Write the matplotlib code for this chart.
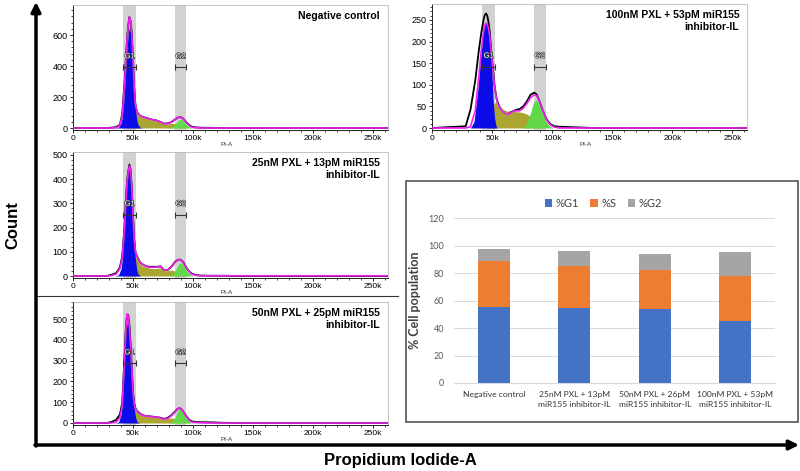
import numpy as np
import matplotlib
matplotlib.use("Agg")
import matplotlib.pyplot as plt
import matplotlib.transforms as mtransforms
from matplotlib import patheffects
from matplotlib.patches import Rectangle
from matplotlib.ticker import MultipleLocator, FuncFormatter

plt.rcParams['font.family'] = ['Liberation Sans', 'DejaVu Sans']

# ---- flow cytometry histograms (PI-A in thousands, counts) ----
PI_K = [0, 28, 32, 36, 39, 41, 43, 44, 45, 46, 47, 48, 49, 50, 51, 52, 53, 54, 56, 58,
        61, 64, 67, 70, 73, 76, 79, 82, 85, 87, 89, 91, 93, 95, 97, 99, 102, 106, 115,
        125, 135, 262]
G1_K = [32, 35, 38, 40, 41, 42, 43, 44, 45, 46, 47, 48, 49, 50, 51, 52, 53, 54, 56, 58]
S_K = [44, 46, 48, 50, 52, 53, 54, 56, 58, 61, 64, 67, 70, 73, 76, 79, 82, 85, 88, 91, 94, 97]
G2_K = [76, 79, 82, 84, 86, 87, 88, 89, 90, 91, 92, 94, 96, 98, 101]

neg_total = [0, 0, 2, 6, 20, 90, 300, 440, 570, 660, 715, 690, 610, 440, 260, 150, 115, 95, 78, 72,
             65, 58, 52, 48, 38, 28, 30, 38, 55, 66, 70, 66, 50, 32, 18, 9, 4, 2, 1, 0, 0, 0]
neg_fit = [0, 0, 0, 2, 15, 80, 290, 435, 565, 660, 720, 690, 610, 440, 260, 150, 115, 95, 78, 72,
           65, 58, 52, 47, 38, 27, 29, 37, 55, 67, 70, 66, 50, 30, 15, 6, 2, 0, 0, 0, 0, 0]
neg_g1 = [0, 0, 5, 30, 70, 140, 250, 380, 510, 610, 650, 610, 510, 370, 240, 130, 60, 25, 3, 0]
neg_s = [0, 15, 55, 95, 115, 110, 95, 78, 70, 62, 56, 50, 45, 36, 27, 27, 30, 28, 18, 8, 3, 0]
neg_g2 = [0, 0, 5, 15, 32, 42, 50, 55, 55, 50, 42, 25, 12, 4, 0]

p25_total = [0, 0, 5, 12, 35, 80, 210, 310, 390, 430, 460, 440, 360, 250, 150, 100, 85, 75, 55, 48,
             40, 38, 38, 38, 40, 24, 25, 38, 58, 66, 68, 62, 48, 30, 18, 10, 4, 2, 1, 1, 0, 0]
p25_fit = [0, 0, 2, 8, 30, 75, 200, 300, 385, 428, 455, 440, 360, 250, 150, 100, 85, 72, 55, 48,
           40, 36, 36, 37, 39, 24, 25, 37, 56, 66, 68, 62, 48, 30, 16, 8, 3, 1, 1, 1, 1, 1]
p25_g1 = [0, 0, 5, 30, 65, 130, 210, 300, 380, 430, 440, 410, 340, 240, 140, 70, 30, 10, 0, 0]
p25_s = [0, 10, 40, 70, 80, 75, 65, 48, 42, 36, 32, 30, 32, 33, 22, 22, 25, 20, 12, 5, 2, 0]
p25_g2 = [0, 0, 3, 12, 30, 40, 48, 53, 54, 50, 44, 28, 14, 5, 0]

p50_total = [0, 0, 5, 15, 40, 95, 330, 450, 520, 520, 470, 380, 265, 150, 95, 72, 62, 55, 45, 38,
             33, 32, 30, 28, 25, 20, 25, 38, 55, 68, 72, 62, 45, 28, 15, 8, 5, 4, 3, 1, 0, 0]
p50_fit = [0, 0, 0, 5, 25, 80, 320, 445, 525, 515, 460, 370, 260, 145, 90, 70, 60, 52, 44, 37,
           33, 31, 30, 28, 24, 18, 22, 35, 52, 68, 74, 62, 44, 26, 12, 5, 2, 1, 0, 0, 0, 0]
p50_g1 = [0, 0, 5, 40, 90, 190, 310, 420, 480, 480, 430, 340, 240, 140, 70, 30, 10, 3, 0, 0]
p50_s = [0, 20, 60, 85, 75, 65, 55, 42, 36, 32, 30, 28, 26, 24, 18, 22, 25, 22, 12, 5, 1, 0]
p50_g2 = [0, 0, 3, 15, 40, 55, 65, 68, 64, 55, 45, 25, 12, 4, 0]

p100_total = [0, 4, 42, 110, 180, 220, 252, 262, 265, 260, 245, 225, 190, 160, 130, 100, 80, 65, 50, 42,
              36, 35, 38, 42, 44, 50, 62, 77, 82, 78, 65, 50, 35, 22, 14, 8, 4, 3, 2, 1, 0, 0]
p100_fit = [0, 0, 3, 40, 120, 180, 225, 238, 243, 240, 232, 215, 185, 155, 125, 98, 78, 63, 48, 40,
            33, 32, 38, 40, 40, 46, 57, 70, 77, 75, 64, 50, 35, 21, 12, 6, 2, 0, 0, 0, 0, 0]
p100_g1 = [0, 15, 85, 150, 180, 210, 228, 240, 242, 235, 220, 195, 165, 120, 60, 25, 8, 0, 0, 0]
p100_s = [0, 0, 20, 45, 58, 60, 58, 52, 45, 40, 37, 38, 38, 37, 35, 32, 26, 18, 10, 4, 0, 0]
p100_g2 = [0, 12, 35, 55, 65, 64, 60, 55, 48, 40, 33, 20, 10, 4, 0]

# ---- stacked bar summary ----
groups = ["Negative control", "25nM PXL + 13pM\nmiR155 inhibitor-IL",
          "50nM PXL + 26pM\nmiR155 inhibitor-IL", "100nM PXL + 53pM\nmiR155 inhibitor-IL"]
pct_g1 = [55.0, 54.5, 53.8, 44.8]
pct_s = [34.0, 30.8, 28.6, 33.3]
pct_g2 = [8.5, 10.9, 11.4, 17.4]

W, H = 800, 471
fig = plt.figure(figsize=(W / 100, H / 100), dpi=100)
OFFICE = ['Lato', 'DejaVu Sans']


def px_rect(l, t, r, b):
    return [l / W, 1 - b / H, (r - l) / W, (b - t) / H]


# overlay for arrows, frames and big labels
ov = fig.add_axes([0, 0, 1, 1])
ov.set_xlim(0, W)
ov.set_ylim(H, 0)
ov.axis('off')
ov.annotate("", xy=(36, 2), xytext=(36, 446),
            arrowprops=dict(arrowstyle='-|>', lw=2.5, color='black', mutation_scale=14, shrinkA=0, shrinkB=0))
ov.annotate("", xy=(799, 445), xytext=(35, 445),
            arrowprops=dict(arrowstyle='-|>', lw=2.5, color='black', mutation_scale=14, shrinkA=0, shrinkB=0))
ov.text(13, 225, "Count", rotation=90, ha='center', va='center', fontsize=12, fontweight='bold')
ov.text(400, 461, "Propidium Iodide-A", ha='center', va='center', fontsize=12, fontweight='bold')
ov.plot([37, 398], [296, 296], color='#333333', lw=0.8)
ov.add_patch(Rectangle((406, 181), 392, 241, fill=False, edgecolor='#555555', lw=1.2))


def draw_hist(rect_px, ymax, ystep, total, fit, g1, s, g2, title):
    l, t, r, zero = rect_px
    pad = 0.015 * ymax
    ax = fig.add_axes(px_rect(l, t, r, zero + pad * (zero - t) / ymax))
    ax.set_xlim(0, 262.144)
    ax.set_ylim(-pad, ymax)
    ax.axvspan(42, 52.5, color='#d2d2d2', lw=0, zorder=0)
    ax.axvspan(85, 94.5, color='#d2d2d2', lw=0, zorder=0)
    ax.plot(PI_K, total, color='black', lw=1.3, zorder=2)
    ax.fill_between(S_K, s, color='#aba531', lw=0, zorder=3)
    ax.fill_between(G1_K, g1, color='#0c0ce8', lw=0, zorder=4)
    ax.fill_between(G2_K, g2, color='#5fd94a', lw=0, zorder=5)
    ax.plot(PI_K, fit, color='#ee22ee', lw=1.2, zorder=6)

    trans = mtransforms.blended_transform_factory(ax.transData, ax.transAxes)
    for lo, hi, name in [(42, 52.5, "G1"), (85, 94.5, "G2")]:
        mid = (lo + hi) / 2
        ax.errorbar(mid, 0.5, xerr=(hi - lo) / 2, transform=trans, color='#333333',
                    lw=0.8, capsize=2, capthick=0.8, zorder=7)
        ax.text(mid, 0.585, name, transform=trans, ha='center', va='center', fontsize=5.5,
                color='white', zorder=7,
                path_effects=[patheffects.withStroke(linewidth=0.9, foreground='#333333')])

    ax.text(0.975, 0.955, title, transform=ax.transAxes, ha='right', va='top',
            fontsize=7.5, fontweight='bold', linespacing=1.35)
    ax.text(128, -0.1, "PI-A", transform=trans, ha='center', va='top', fontsize=4.5, color='#333333')

    ax.set_xticks([0, 50, 100, 150, 200, 250])
    ax.xaxis.set_major_formatter(FuncFormatter(lambda v, p: "0" if v == 0 else f"{int(v)}k"))
    ax.xaxis.set_minor_locator(MultipleLocator(10))
    ax.yaxis.set_major_locator(MultipleLocator(ystep))
    ax.yaxis.set_minor_locator(MultipleLocator(ystep / 5))
    ax.tick_params(axis='x', labelsize=6, length=2.5, width=0.6, pad=1.5)
    ax.tick_params(axis='y', labelsize=6.5, length=2.5, width=0.6, pad=1.5)
    ax.tick_params(which='minor', length=1.5, width=0.5)
    for side in ['left', 'bottom']:
        ax.spines[side].set_color('#222222')
        ax.spines[side].set_linewidth(0.7)
    for side in ['top', 'right']:
        ax.spines[side].set_color('#bbbbbb')
        ax.spines[side].set_linewidth(0.6)
    return ax


draw_hist((73, 5, 387.6, 128), 794, 200, neg_total, neg_fit, neg_g1, neg_s, neg_g2, "Negative control")
draw_hist((432, 4, 747, 128), 287, 50, p100_total, p100_fit, p100_g1, p100_s, p100_g2,
          "100nM PXL + 53pM miR155\ninhibitor-IL")
draw_hist((73, 152, 387.6, 276), 512, 100, p25_total, p25_fit, p25_g1, p25_s, p25_g2,
          "25nM PXL + 13pM miR155\ninhibitor-IL")
draw_hist((73, 302, 387.6, 423), 582, 100, p50_total, p50_fit, p50_g1, p50_s, p50_g2,
          "50nM PXL + 25pM miR155\ninhibitor-IL")

# ---- bar chart ----
bx = fig.add_axes(px_rect(453.8, 218, 775.4, 383))
xs = np.arange(len(groups))
bw = 0.4
bot2 = np.array(pct_g1) + np.array(pct_s)
bx.bar(xs, pct_g1, bw, color='#4472c4', label='%G1', zorder=3)
bx.bar(xs, pct_s, bw, bottom=pct_g1, color='#ed7d31', label='%S', zorder=3)
bx.bar(xs, pct_g2, bw, bottom=bot2, color='#a5a5a5', label='%G2', zorder=3)
bx.set_xlim(-0.5, len(groups) - 0.5)
bx.set_ylim(0, 120)
bx.set_yticks(np.arange(0, 121, 20))
bx.grid(axis='y', color='#d9d9d9', lw=0.7, zorder=0)
bx.set_xticks(xs)
bx.set_xticklabels(groups, fontsize=6.1, color='#333333', family=OFFICE, linespacing=1.45)
bx.tick_params(axis='y', labelsize=6.5, labelcolor='#595959', length=0, pad=7)
bx.tick_params(axis='x', length=0, pad=6)
for lab in bx.get_yticklabels():
    lab.set_family(OFFICE)
for side in ['left', 'top', 'right']:
    bx.spines[side].set_visible(False)
bx.spines['bottom'].set_color('#d9d9d9')
bx.set_ylabel("% Cell population", fontsize=9, fontweight='bold', color='#404040',
              family=OFFICE, labelpad=5)
bx.legend(ncol=3, loc='center', bbox_to_anchor=(0.465, 1.09), frameon=False,
          handlelength=0.7, handleheight=0.7, handletextpad=0.3, columnspacing=1.0,
          labelcolor='#404040', prop={'family': OFFICE, 'size': 8})

fig.savefig("out.png", dpi=100)
